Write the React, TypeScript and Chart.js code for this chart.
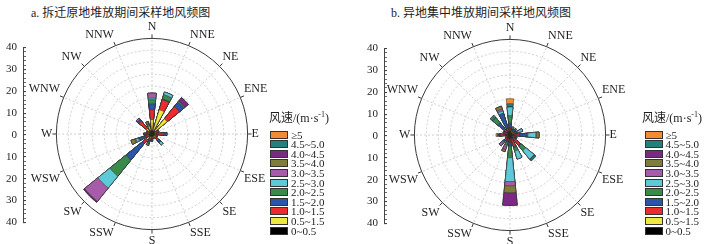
import React, { useEffect, useRef } from 'react';
import { Chart, registerables } from 'chart.js';

Chart.register(...registerables);

const directions = ['N', 'NNE', 'NE', 'ENE', 'E', 'ESE', 'SE', 'SSE', 'S', 'SSW', 'SW', 'WSW', 'W', 'WNW', 'NW', 'NNW'];
const speedClasses = ['0~0.5', '0.5~1.5', '1.0~1.5', '1.5~2.0', '2.0~2.5', '2.5~3.0', '3.0~3.5', '3.5~4.0', '4.0~4.5', '4.5~5.0', '≥5'];
const classColors = ['#000000', '#efe93e', '#ee2b2b', '#2b55a8', '#3a8a4a', '#5ecad8', '#a65ca8', '#7e7e38', '#7a2a82', '#23807e', '#f48a32'];
const axisTickValues = [40, 30, 20, 10, 0, 10, 20, 30, 40];
const radialMax = 40;

// Panel a: frequency (%) of each speed class per direction (N ... NNW)
const aS1 = [1.5, 1.5, 1.5, 1, 1, 1, 1, 1, 1, 1, 1.5, 1.5, 1, 1, 1.5, 1.5];
const aS2 = [4.5, 9.1, 6.7, 0.5, 0.5, 0.5, 1, 0.5, 0.5, 1, 1.5, 0.5, 0.5, 0.5, 1.5, 2];
const aS3 = [4.1, 4.4, 6.6, 1.5, 3.5, 1, 1.5, 0.5, 1, 1, 2, 1, 1.5, 1, 4, 0];
const aS4 = [2.5, 0.3, 2.2, 0, 1.2, 0, 1, 0, 0, 0.5, 9, 2.5, 0.5, 0, 0.8, 0];
const aS5 = [1.8, 1.9, 0.4, 0, 0, 0, 0.3, 0, 0.5, 0.5, 8.7, 0.5, 0, 0, 0, 1];
const aS6 = [0.6, 1.1, 0.2, 0, 0, 0, 1.2, 0, 0, 0, 6.4, 1, 0, 0, 0, 0];
const aS7 = [2.1, 0, 0, 0, 0, 0, 0, 0, 0, 0, 7.2, 0.5, 0, 0, 0.8, 0];
const aS8 = [0, 0, 0, 0, 0, 0, 0, 0, 0, 1, 0, 1.7, 0, 0, 0, 1];
const aS9 = [0, 0, 2.0, 0, 0, 0, 0, 0, 0, 0, 0.5, 0, 0, 0, 0, 0];
const aS10 = [0, 0, 0, 0, 0, 0, 0, 0, 0, 0, 0, 0, 0, 0, 0, 0];
const aS11 = [0, 0, 0, 0, 0, 0, 0, 0, 0, 0, 0, 0, 0, 0, 0, 0];

// Panel b
const bS1 = [1.8, 1, 1, 1, 1.5, 1, 1.5, 1.5, 1.5, 1.5, 1.5, 1, 1.5, 1, 1.5, 1.5];
const bS2 = [0, 0.5, 0.5, 0.5, 0, 0.5, 0, 0, 0, 0, 0, 0.5, 0, 0.5, 0, 0];
const bS3 = [1.2, 0.5, 1, 1, 2.5, 1, 4, 3.5, 1.5, 1, 1.5, 0.5, 2.5, 1, 1.5, 1.5];
const bS4 = [2, 0.5, 0.5, 0.5, 3, 0.5, 0.5, 0.5, 1.5, 0.5, 0.5, 0, 0.5, 0.5, 3.5, 6.5];
const bS5 = [3.1, 0.5, 0.5, 0.5, 0.5, 0, 2.5, 1.5, 5, 1.5, 0.5, 0, 0, 0, 2.8, 0];
const bS6 = [3.6, 0.5, 0, 2, 3.3, 0, 4.5, 3.5, 10, 0.5, 0.5, 0, 0, 0, 0, 1];
const bS7 = [0, 0, 0, 0, 0.2, 0, 0, 0, 1.8, 1.3, 1.4, 0, 0, 0, 0, 0.8];
const bS8 = [0, 0, 0, 0, 1.2, 0, 0.2, 0, 2.9, 1, 0, 0, 0, 0, 0, 1.3];
const bS9 = [0, 0, 0, 0, 0, 0, 0, 0, 5.3, 0, 0, 0, 0, 0, 0, 0];
const bS10 = [1.4, 0, 0, 0, 0, 0, 0.8, 0, 0, 0, 0, 0, 0.8, 0, 1.4, 0];
const bS11 = [2.1, 0, 0, 0, 0, 0, 0, 0, 0, 0, 0, 0, 0.6, 0, 0, 0];

const panelA = [aS1, aS2, aS3, aS4, aS5, aS6, aS7, aS8, aS9, aS10, aS11];
const panelB = [bS1, bS2, bS3, bS4, bS5, bS6, bS7, bS8, bS9, bS10, bS11];

const SECTOR = 12; // degrees covered by each direction's wedge
const FONT = "'Liberation Serif', 'Noto Sans CJK SC', serif";

const roseLines = {
  id: 'roseLines',
  beforeDatasetsDraw(chart: any) {
    const s = chart.scales.r;
    const ctx = chart.ctx;
    const n = directions.length;
    const add = Math.PI / n;
    ctx.save();
    ctx.strokeStyle = '#c4c4c4';
    ctx.lineWidth = 0.8;
    ctx.setLineDash([2, 2]);
    for (let i = 0; i < n; i++) {
      const p = s.getPointPosition(i, s.drawingArea, add);
      ctx.beginPath();
      ctx.moveTo(s.xCenter, s.yCenter);
      ctx.lineTo(p.x, p.y);
      ctx.stroke();
    }
    ctx.setLineDash([]);
    ctx.strokeStyle = '#3a3a3a';
    ctx.lineWidth = 1;
    for (let i = 0; i < n; i++) {
      const p1 = s.getPointPosition(i, s.drawingArea, add);
      const p2 = s.getPointPosition(i, s.drawingArea + 4, add);
      ctx.beginPath();
      ctx.moveTo(p1.x, p1.y);
      ctx.lineTo(p2.x, p2.y);
      ctx.stroke();
    }
    ctx.restore();
  },
};

function WindRose({ series, left, top }: { series: number[][]; left: number; top: number }) {
  const ref = useRef<HTMLCanvasElement | null>(null);
  useEffect(() => {
    const n = directions.length;
    const step = 360 / n;
    const angles: number[] = [step / 2 - SECTOR / 2];
    for (let k = 0; k < n; k++) {
      angles.push(SECTOR);
      angles.push(k < n - 1 ? step - SECTOR : step / 2 - SECTOR / 2);
    }
    const expand = (vals: number[]) => {
      const out = [0];
      vals.forEach((v) => {
        out.push(v);
        out.push(0);
      });
      return out;
    };
    const cum: number[][] = [];
    series.forEach((arr, c) => {
      cum.push(arr.map((v, k) => v + (c > 0 ? cum[c - 1][k] : 0)));
    });
    const datasets = speedClasses.map((name, c) => ({
      label: name,
      data: expand(cum[c]),
      backgroundColor: classColors[c],
      borderColor: '#2a2a2a',
      borderWidth: (ctx: any) => (ctx.dataIndex % 2 === 1 ? 0.5 : 0),
      angle: (ctx: any) => angles[ctx.dataIndex],
    }));
    const chart = new Chart(ref.current as HTMLCanvasElement, {
      type: 'polarArea',
      data: { labels: directions, datasets: datasets as any },
      options: {
        responsive: false,
        animation: false,
        events: [],
        plugins: { legend: { display: false }, tooltip: { enabled: false } },
        layout: { padding: 0 },
        scales: {
          r: {
            min: 0,
            max: radialMax,
            startAngle: -step / 2 + 0.001,
            ticks: { display: false, stepSize: 5, maxTicksLimit: 20 },
            grid: {
              circular: true,
              color: (c: any) => (c.tick && c.tick.value >= radialMax ? '#3a3a3a' : '#c4c4c4'),
              lineWidth: (c: any) => (c.tick && c.tick.value >= radialMax ? 1 : 0.8),
            },
            border: { dash: (c: any) => (c.tick && c.tick.value >= radialMax ? [] : [2, 2]) },
            angleLines: { display: false },
            pointLabels: {
              display: true,
              centerPointLabels: true,
              padding: 4,
              color: '#1e1e1e',
              font: { family: 'Liberation Serif', size: 12 },
            },
          } as any,
        },
      },
      plugins: [roseLines],
    });
    return () => chart.destroy();
  }, [series]);
  return (
    <canvas
      ref={ref}
      width={284}
      height={228}
      style={{ position: 'absolute', left, top, width: 284, height: 228, zIndex: 1 }}
    />
  );
}

function SideAxis({ left, top }: { left: number; top: number }) {
  const ref = useRef<HTMLCanvasElement | null>(null);
  useEffect(() => {
    const chart = new Chart(ref.current as HTMLCanvasElement, {
      type: 'scatter',
      data: { datasets: [] },
      options: {
        responsive: false,
        animation: false,
        events: [],
        plugins: { legend: { display: false }, tooltip: { enabled: false } },
        layout: { padding: { top: 8, bottom: 8, left: 0, right: 0 } },
        scales: {
          x: { display: false, min: 0, max: 1 },
          y: {
            type: 'linear',
            position: 'left',
            min: -radialMax,
            max: radialMax,
            ticks: {
              stepSize: 2,
              autoSkip: false,
              maxTicksLimit: 100,
              padding: 9,
              color: '#1e1e1e',
              font: { family: 'Liberation Serif', size: 11 },
              callback: (v: any) => {
                const val = Math.abs(Number(v));
                return Number(v) % 10 === 0 && axisTickValues.includes(val) ? String(val) : '';
              },
            },
            grid: {
              drawTicks: true,
              tickLength: -3,
              drawOnChartArea: false,
              color: '#444',
              lineWidth: (c: any) => (c.tick && c.tick.value % 10 === 0 ? 1.1 : 0.8),
            },
            border: { display: true, color: '#444', width: 1 },
          },
        },
      },
    });
    return () => chart.destroy();
  }, []);
  return (
    <canvas
      ref={ref}
      width={60}
      height={206}
      style={{ position: 'absolute', left, top, width: 60, height: 206, zIndex: 2 }}
    />
  );
}

function Legend({ left, top, boxLeft, boxWidth, textLeft }: { left: number; top: number; boxLeft: number; boxWidth: number; textLeft: number }) {
  const rows = speedClasses.map((name, i) => ({ name, color: classColors[i] })).reverse();
  return (
    <div style={{ position: 'absolute', left: 0, top: 0, zIndex: 3 }}>
      <div
        style={{
          position: 'absolute',
          left,
          top,
          fontFamily: FONT,
          fontSize: 12,
          lineHeight: '14px',
          whiteSpace: 'nowrap',
          color: '#1e1e1e',
        }}
      >
        风速/(m·s<sup style={{ fontSize: 8, verticalAlign: 'top', lineHeight: '8px' }}>-1</sup>)
      </div>
      {rows.map((r, i) => (
        <React.Fragment key={r.name}>
          <div
            style={{
              position: 'absolute',
              left: boxLeft,
              top: top + 19.5 + i * 9.6,
              width: boxWidth,
              height: 8,
              boxSizing: 'border-box',
              background: r.color,
              border: '1px solid #333',
            }}
          />
          <div
            style={{
              position: 'absolute',
              left: textLeft,
              top: top + 18.5 + i * 9.6,
              fontFamily: FONT,
              fontSize: 11,
              lineHeight: '10px',
              whiteSpace: 'nowrap',
              color: '#1e1e1e',
            }}
          >
            {r.name}
          </div>
        </React.Fragment>
      ))}
    </div>
  );
}

export default function App() {
  const titleStyle: React.CSSProperties = {
    position: 'absolute',
    top: 5,
    fontFamily: FONT,
    fontSize: 12,
    lineHeight: '16px',
    whiteSpace: 'nowrap',
    color: '#1e1e1e',
    zIndex: 3,
  };
  return (
    <div
      style={{
        position: 'fixed',
        left: 0,
        top: 0,
        width: 712,
        height: 244,
        background: '#ffffff',
        overflow: 'hidden',
      }}
    >
      <div style={{ ...titleStyle, left: 31 }}>a. 拆迁原地堆放期间采样地风频图</div>
      <div style={{ ...titleStyle, left: 391 }}>b. 异地集中堆放期间采样地风频图</div>
      <WindRose series={panelA} left={10} top={21} />
      <WindRose series={panelB} left={368} top={22} />
      <SideAxis left={-3} top={32} />
      <SideAxis left={358} top={33} />
      <Legend left={269} top={111} boxLeft={269.5} boxWidth={18} textLeft={291} />
      <Legend left={642} top={111} boxLeft={645} boxWidth={17.5} textLeft={665.5} />
    </div>
  );
}
